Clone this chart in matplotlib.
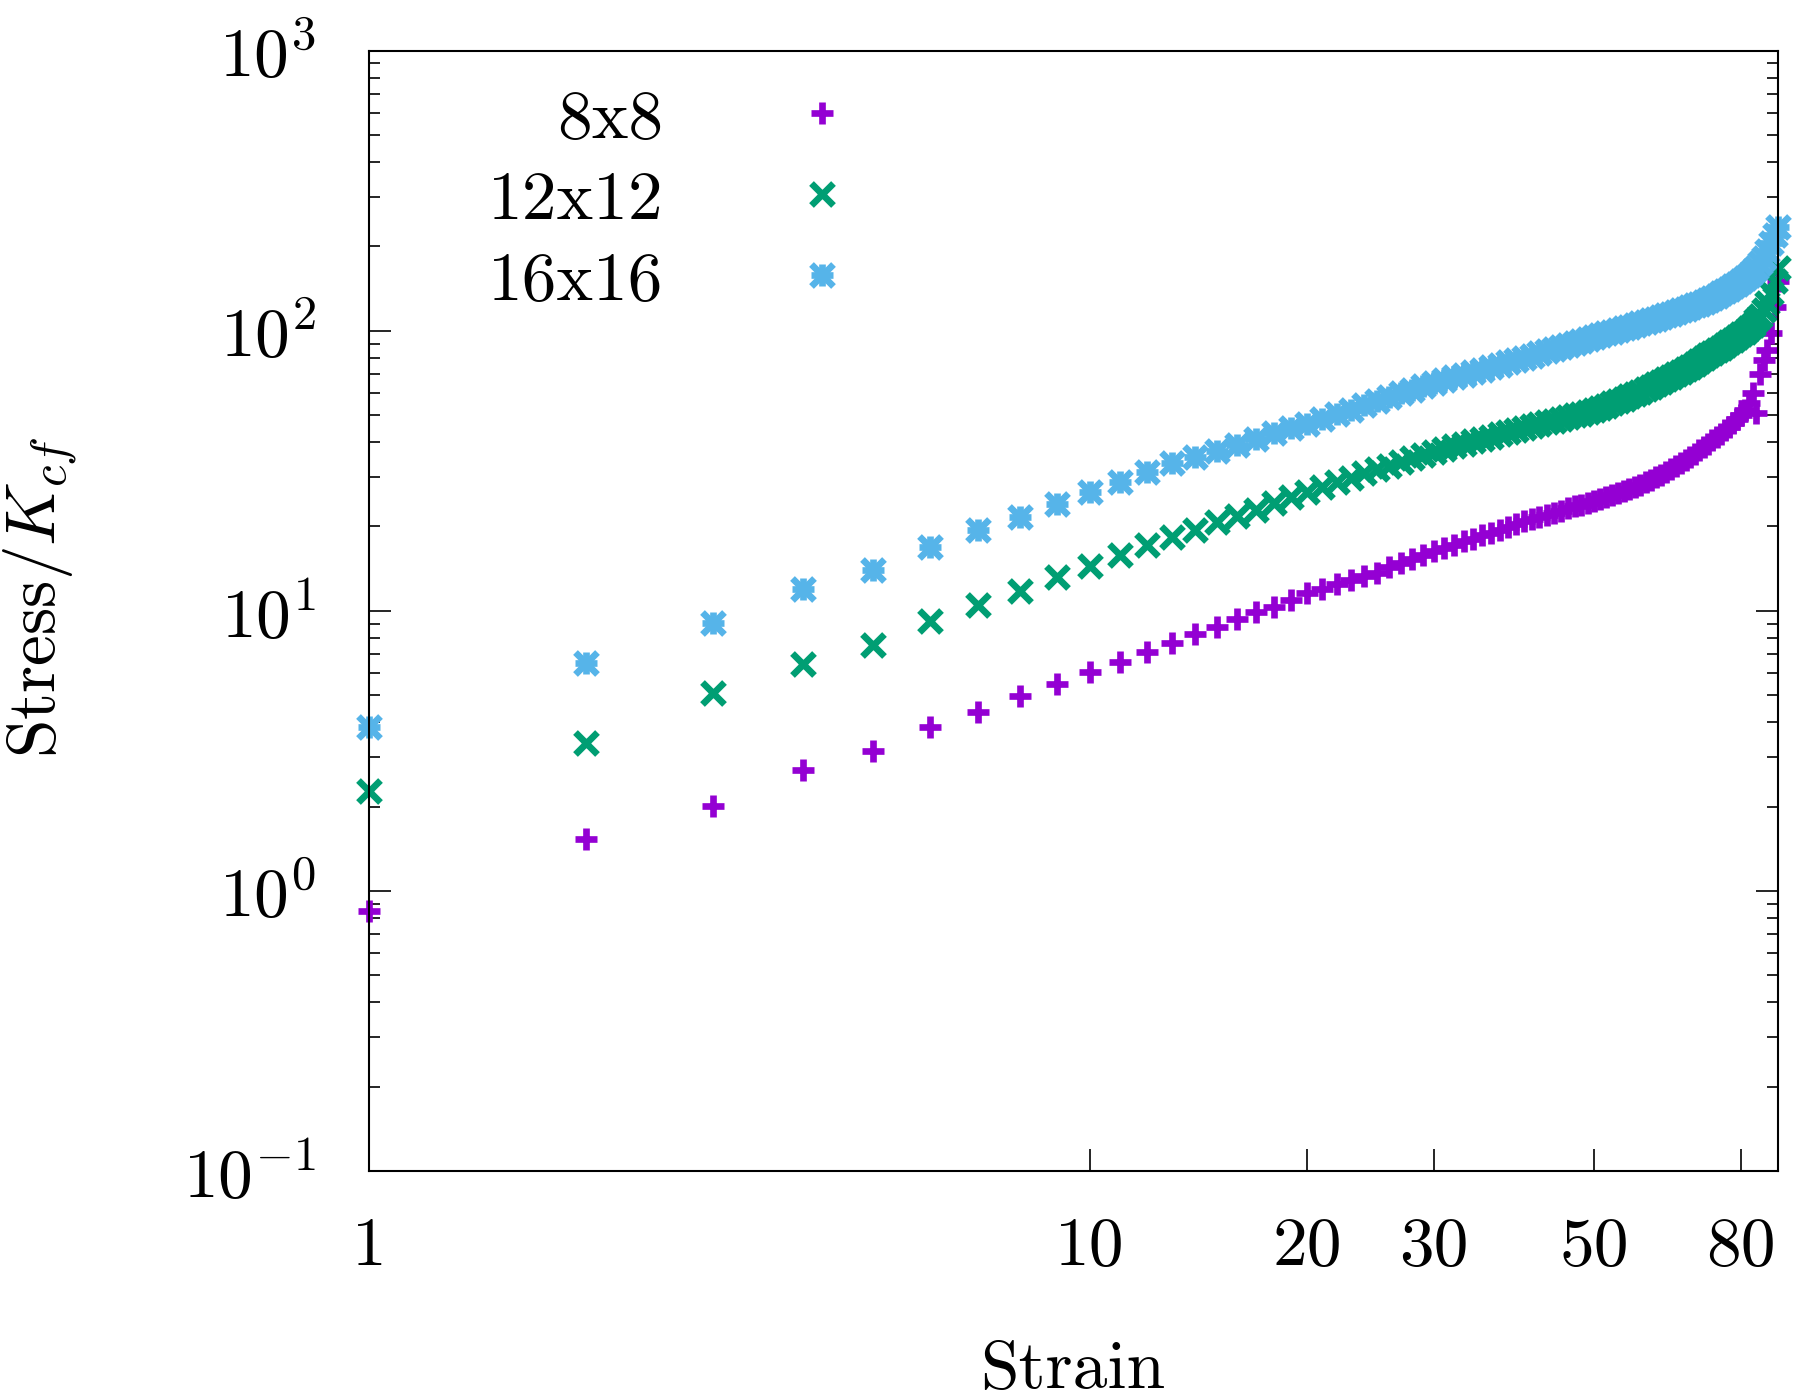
import matplotlib
matplotlib.use("Agg")
import matplotlib.pyplot as plt
from matplotlib.lines import Line2D
from matplotlib.legend_handler import HandlerTuple

# strain steps 1..90
strain = list(range(1, 91))

stress_8x8 = [
    0.85, 1.53, 2.01, 2.71, 3.16, 3.85, 4.36, 4.96, 5.50, 6.06,
    6.57, 7.14, 7.65, 8.26, 8.77, 9.31, 9.91, 10.33, 10.92, 11.54,
    12.0, 12.45, 12.9, 13.3, 13.7, 14.3, 14.8, 15.3, 15.8, 16.3,
    16.8, 17.2, 17.7, 18.1, 18.6, 19.0, 19.5, 19.9, 20.4, 20.9,
    21.3, 21.7, 22.0, 22.4, 22.8, 23.2, 23.6, 23.9, 24.3, 24.7,
    25.1, 25.5, 25.9, 26.3, 26.7, 27.2, 27.7, 28.2, 28.8, 29.4,
    30.0, 30.6, 31.3, 32.0, 32.8, 33.6, 34.5, 35.4, 36.4, 37.4,
    38.4, 39.5, 40.6, 41.7, 42.9, 44.1, 45.4, 46.8, 48.4, 50.2,
    52.0, 55.0, 59.8, 50.7, 70.0, 78.5, 85.0, 98.0, 122.0, 150.0,
]

stress_12x12 = [
    2.27, 3.36, 5.07, 6.44, 7.54, 9.2, 10.48, 11.79, 13.15, 14.48,
    15.8, 17.2, 18.4, 19.5, 20.8, 21.8, 22.9, 24.2, 25.4, 26.6,
    27.7, 28.8, 29.9, 31.0, 32.0, 33.0, 34.0, 35.0, 36.0, 37.0,
    37.9, 38.7, 39.5, 40.3, 41.1, 41.9, 42.7, 43.5, 44.2, 45.0,
    45.7, 46.4, 47.1, 47.8, 48.5, 49.2, 49.9, 50.6, 51.3, 52.0,
    53.0, 54.0, 55.0, 56.1, 57.2, 58.3, 59.4, 60.6, 61.8, 63.0,
    64.3, 65.6, 67.0, 68.4, 69.9, 71.4, 72.9, 74.5, 76.2, 78.0,
    79.8, 81.6, 83.4, 85.2, 87.0, 88.9, 90.8, 92.8, 94.9, 97.0,
    99.0, 102.0, 105.0, 109.0, 113.0, 119.0, 126.0, 136.0, 150.0, 168.0,
]

stress_16x16 = [
    3.85, 6.52, 9.02, 11.92, 13.98, 16.9, 19.4, 21.7, 24.0, 26.6,
    28.9, 31.4, 33.8, 35.5, 37.3, 39.1, 40.9, 43.0, 44.8, 46.5,
    48.4, 50.3, 52.2, 54.1, 56.0, 58.0, 59.8, 61.6, 63.3, 65.0,
    66.6, 68.1, 69.6, 71.1, 72.6, 74.1, 75.6, 77.1, 78.5, 80.0,
    81.5, 83.0, 84.5, 86.0, 87.5, 89.0, 90.5, 92.0, 93.5, 95.0,
    96.4, 97.8, 99.2, 100.6, 102.0, 103.4, 104.8, 106.2, 107.6, 109.0,
    110.5, 112.0, 113.5, 115.0, 116.6, 118.2, 119.8, 121.5, 123.2, 125.0,
    127.0, 129.0, 131.2, 133.5, 136.0, 138.6, 141.3, 144.2, 147.2, 150.0,
    154.0, 158.0, 163.0, 168.0, 174.0, 182.0, 192.0, 205.0, 220.0, 235.0,
]

labels = ['8x8', '12x12', '16x16']
colors = ['#9400D3', '#009E73', '#56B4E9']
x_ticks = [1, 10, 20, 30, 50, 80]

plt.rcParams['font.family'] = 'serif'
plt.rcParams['font.serif'] = ['cmr10']
plt.rcParams['mathtext.fontset'] = 'cm'
plt.rcParams['axes.formatter.use_mathtext'] = True
plt.rcParams['font.size'] = 50

fig = plt.figure(figsize=(18, 13.99), dpi=100)
ax = fig.add_axes([0.205, 0.163, 0.7828, 0.8008])

ms, mew = 16, 4.8
ax.plot(strain, stress_8x8, ls='none', marker='+', ms=ms, mew=mew,
        color=colors[0], clip_on=False)
ax.plot(strain, stress_12x12, ls='none', marker='x', ms=ms, mew=mew,
        color=colors[1], clip_on=False)
ax.plot(strain, stress_16x16, ls='none', marker='+', ms=ms, mew=mew,
        color=colors[2], clip_on=False)
ax.plot(strain, stress_16x16, ls='none', marker='x', ms=ms, mew=mew,
        color=colors[2], clip_on=False)

ax.set_xscale('log')
ax.set_yscale('log')
ax.set_xlim(1, 90)
ax.set_ylim(0.1, 1000)

ax.set_xticks(x_ticks)
ax.set_xticklabels([str(t) for t in x_ticks])
ax.xaxis.set_minor_locator(matplotlib.ticker.NullLocator())
ax.tick_params(axis='x', which='major', direction='in', length=16, width=1.2,
               pad=33, top=False)
ax.tick_params(axis='y', which='major', direction='in', length=16, width=1.2,
               pad=38, right=True)
ax.tick_params(axis='y', which='minor', direction='in', length=8, width=1.2,
               right=True)
ax.yaxis.set_minor_locator(matplotlib.ticker.LogLocator(base=10, subs=range(2, 10)))
for s in ax.spines.values():
    s.set_linewidth(1.5)

# legend: label on the left, marker on the right (gnuplot style)
h1 = Line2D([], [], ls='none', marker='+', ms=ms, mew=mew, color=colors[0])
h2 = Line2D([], [], ls='none', marker='x', ms=ms, mew=mew, color=colors[1])
h3a = Line2D([], [], ls='none', marker='+', ms=ms, mew=mew, color=colors[2])
h3b = Line2D([], [], ls='none', marker='x', ms=ms, mew=mew, color=colors[2])
leg = ax.legend([h1, h2, (h3a, h3b)], labels, markerfirst=False, frameon=False,
                handler_map={tuple: HandlerTuple(ndivide=1, pad=0)},
                handlelength=3.55, handletextpad=0.5, labelspacing=0.28,
                borderaxespad=0, borderpad=0,
                loc='upper left', bbox_to_anchor=(488 / 1800, 1 - 89 / 1399),
                bbox_transform=fig.transFigure)

fig.text(1073 / 1800, 1 - 1388 / 1399, 'Strain', ha='center', va='baseline')
fig.text(41 / 1800, 1 - 597 / 1399, r'Stress$/K_{cf}$', ha='center', va='center',
         rotation=90)

fig.savefig('out.png', dpi=100)
